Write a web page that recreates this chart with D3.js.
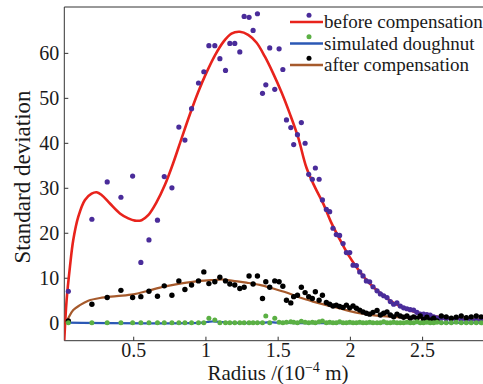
<!DOCTYPE html>
<html>
<head>
<meta charset="utf-8">
<script src="https://cdn.jsdelivr.net/npm/d3@7"></script>
</head>
<body style="margin:0">
<svg id="chart"></svg>
<script>
// shared sample radii (10^-4 m)
const radius = [0.051,0.214,0.320,0.415,0.496,0.553,0.609,0.668,0.715,0.768,
  0.816,0.858,0.904,0.952,0.989,1.024,1.065,1.100,1.139,1.169,
  1.203,1.238,1.268,1.302,1.330,1.360,1.395,1.418,1.445,1.480,
  1.510,1.536,1.561,1.591,1.611,1.637,1.664,1.690,1.715,1.740,
  1.761,1.787,1.810,1.837,1.860,1.883,1.906,1.929,1.953,1.976,
  1.999,2.022,2.045,2.068,2.091,2.114,2.137,2.160,2.188,2.211,
  2.234,2.257,2.280,2.303,2.326,2.349,2.372,2.395,2.418,2.441,
  2.464,2.487,2.510,2.533,2.556,2.580,2.603,2.633,2.667,2.702,
  2.736,2.771,2.806,2.840,2.875,2.909];

const beforeVals = [7.0,23.0,31.3,27.9,32.6,13.4,18.4,22.8,32.5,30.0,
  43.5,40.6,47.6,53.3,55.8,61.6,61.6,58.7,56.1,62.1,
  62.1,60.2,68.1,67.9,65.0,68.7,51.0,52.9,61.1,51.9,
  60.9,56.3,45.1,43.4,39.6,41.8,44.5,39.9,33.0,31.9,
  34.4,31.9,27.3,25.2,24.7,21.0,19.6,19.4,17.6,15.6,
  15.6,12.8,12.7,11.3,10.4,9.3,9.1,8.0,7.1,6.4,
  6.0,5.6,4.7,4.1,4.4,3.7,3.3,3.1,2.9,2.8,
  2.3,1.9,1.9,1.8,1.7,1.3,1.1,1.0,0.9,0.8,
  0.8,0.7,0.7,0.7,0.6,0.6];

const afterVals = [0.4,4.1,5.6,7.2,5.6,5.8,7.0,5.9,8.2,6.1,
  9.3,7.4,8.4,9.3,11.3,8.7,9.1,10.1,9.3,8.6,
  8.4,7.6,7.9,10.4,8.6,10.4,5.4,9.1,7.9,9.3,
  9.1,8.1,5.0,4.4,5.8,6.1,7.9,6.7,5.8,5.4,
  6.9,5.0,6.1,4.5,4.1,3.7,3.9,3.6,3.4,3.9,
  3.3,3.7,3.2,2.8,2.4,2.1,1.9,2.3,2.7,1.7,
  2.1,2.4,1.7,1.3,1.9,1.5,1.2,1.5,1.0,1.3,
  1.0,1.5,0.8,1.2,0.6,1.0,0.4,1.5,1.3,1.0,
  1.2,1.5,1.1,1.3,1.5,1.3];

const simVals = [0,0,0,0,0,0,0,0,0,0,
  0,0,0,0,0,1.0,0.6,0,0,0,
  0,0,0,0,0,0,0,1.5,0,1.0,
  0.1,0,0.1,0.2,0.1,0,0.3,0.1,0,0.1,
  0,0.2,0.4,0,0.1,0,0,0.2,0,0,
  0.1,0,0,0.1,0,0,0.1,0,0,0,
  0.2,0,0,0.1,0,0,0,0.1,0,0,
  0.2,0,0,0.1,0,0,0.1,0,0,0,
  0.1,0,0,0,0,0];

// fitted curves
const beforeFitR = [0.023,0.039,0.062,0.085,0.12,0.166,0.212,0.247,0.281,0.339,
  0.408,0.466,0.512,0.558,0.604,0.662,0.719,0.777,0.835,0.892,
  0.950,1.007,1.065,1.123,1.180,1.238,1.296,1.353,1.411,1.468,
  1.526,1.584,1.641,1.699,1.757,1.814,1.872,1.929,1.987,2.045,
  2.102,2.16,2.218,2.275,2.333,2.39,2.46,2.55,2.69,2.92];
const beforeFitV = [-3.9,5.0,12.4,18.4,23.6,27.3,28.7,29.0,28.4,26.5,
  24.3,23.2,22.7,22.8,23.9,26.8,30.6,35.5,41.0,46.3,
  51.3,55.6,59.4,62.4,64.3,64.7,64.0,62.3,59.2,55.5,
  51.3,46.5,41.3,34.5,30.2,26.6,22.2,18.6,15.2,12.4,
  10.0,8.0,6.4,5.0,3.9,3.1,2.3,1.6,1.0,0.7];

const afterFitR = [0.035,0.05,0.085,0.131,0.189,0.27,0.385,0.5,0.592,0.685,
  0.777,0.869,0.961,1.053,1.123,1.192,1.284,1.376,1.468,1.561,
  1.653,1.745,1.837,1.929,2.022,2.114,2.206,2.344,2.483,2.621,2.92];
const afterFitV = [0.0,1.0,2.8,3.9,4.9,5.5,5.9,6.3,7.0,7.8,
  8.4,8.9,9.3,9.5,9.6,9.3,8.9,8.4,7.6,6.7,
  5.6,4.7,3.9,3.2,2.4,1.9,1.5,1.2,1.0,0.9,0.8];

const simFitR = [0.045,0.98,1.03,1.10,1.15,1.40,1.45,1.50,2.92];
const simFitV = [0,0,0.25,0.2,0,0,0.15,0,0];

const xTicks = [0.5, 1, 1.5, 2, 2.5];
const yTicks = [0, 10, 20, 30, 40, 50, 60];

const series = [
  { name: "before compensation", line: "#e8231c", dot: "#4a2c9a" },
  { name: "simulated doughnut", line: "#2b58b5", dot: "#5bb044" },
  { name: "after compensation", line: "#a65a2c", dot: "#000000" }
];

const FONT = '"Liberation Serif"';
const width = 483, height = 384;
const margin = { left: 64.3, right: 490, top: 7, bottom: 340.7 };

const svg = d3.select("#chart").attr("width", width).attr("height", height);

const x = d3.scaleLinear().domain([0.023, 2.97]).range([margin.left, margin.right]);
const y = d3.scaleLinear().domain([-4, 70.2]).range([margin.bottom, margin.top]);

svg.append("clipPath").attr("id", "plot")
  .append("rect").attr("x", margin.left).attr("y", margin.top)
  .attr("width", margin.right - margin.left).attr("height", margin.bottom - margin.top);

// frame
const frame = svg.append("g").attr("stroke", "#333").attr("stroke-width", 1).attr("fill", "none");
frame.append("line").attr("x1", margin.left).attr("x2", margin.left).attr("y1", margin.top).attr("y2", margin.bottom);
frame.append("line").attr("x1", margin.left).attr("x2", margin.right).attr("y1", margin.bottom).attr("y2", margin.bottom);
frame.append("line").attr("x1", margin.left).attr("x2", margin.right).attr("y1", margin.top).attr("y2", margin.top);

// axes
const xAxis = svg.append("g")
  .attr("transform", `translate(0,${margin.bottom})`)
  .call(d3.axisBottom(x).tickValues(xTicks).tickFormat(d3.format("")).tickSizeInner(-4).tickSizeOuter(0).tickPadding(2));
const yAxis = svg.append("g")
  .attr("transform", `translate(${margin.left},0)`)
  .call(d3.axisLeft(y).tickValues(yTicks).tickSizeInner(-4).tickSizeOuter(0).tickPadding(5));

[xAxis, yAxis].forEach(a => {
  a.attr("font-family", null).attr("font-size", null);
  a.select(".domain").remove();
  a.selectAll(".tick line").attr("stroke", "#333");
  a.selectAll(".tick text")
    .attr("fill", "#1a1a1a")
    .style("font-family", FONT)
    .style("font-size", "20px");
});

// axis titles
svg.append("text")
  .attr("x", 278).attr("y", 380)
  .attr("text-anchor", "middle")
  .attr("fill", "#1a1a1a")
  .style("font-family", FONT)
  .style("font-size", "21px")
  .call(t => {
    t.append("tspan").text("Radius /(10");
    t.append("tspan").attr("dy", -8).style("font-size", "14px").text("\u22124");
    t.append("tspan").attr("dy", 8).text(" m)");
  });

svg.append("text")
  .attr("transform", "translate(30,177) rotate(-90)")
  .attr("text-anchor", "middle")
  .attr("fill", "#1a1a1a")
  .style("font-family", FONT)
  .style("font-size", "23px")
  .text("Standard deviation");

// curves
const plot = svg.append("g").attr("clip-path", "url(#plot)");
const line = d3.line().x(d => x(d[0])).y(d => y(d[1])).curve(d3.curveCatmullRom.alpha(0.5));

plot.append("path").datum(d3.zip(simFitR, simFitV))
  .attr("d", line).attr("fill", "none").attr("stroke", series[1].line).attr("stroke-width", 2.2);
plot.append("path").datum(d3.zip(beforeFitR, beforeFitV))
  .attr("d", line).attr("fill", "none").attr("stroke", series[0].line).attr("stroke-width", 2.6);
plot.append("path").datum(d3.zip(afterFitR, afterFitV))
  .attr("d", line).attr("fill", "none").attr("stroke", series[2].line).attr("stroke-width", 2.2);

// points
function dots(vals, color, r) {
  plot.append("g").selectAll("circle")
    .data(d3.zip(radius, vals))
    .enter().append("circle")
    .attr("cx", d => x(d[0]))
    .attr("cy", d => y(d[1]))
    .attr("r", r)
    .attr("fill", color);
}
dots(beforeVals, series[0].dot, 2.6);
dots(afterVals, series[2].dot, 2.7);
dots(simVals, series[1].dot, 2.5);

// legend
const legend = svg.append("g");
const rows = [22, 43.5, 65];
series.forEach((s, i) => {
  const g = legend.append("g").attr("transform", `translate(290,${rows[i]})`);
  g.append("line").attr("x1", 0).attr("x2", 33).attr("stroke", s.line).attr("stroke-width", 2.4);
  g.append("circle").attr("cx", 19).attr("cy", -6.7).attr("r", 2.5).attr("fill", s.dot);
  g.append("text").attr("x", 34).attr("y", 6)
    .attr("fill", "#1a1a1a")
    .style("font-family", FONT)
    .style("font-size", "19px")
    .text(s.name);
});
</script>
</body>
</html>
